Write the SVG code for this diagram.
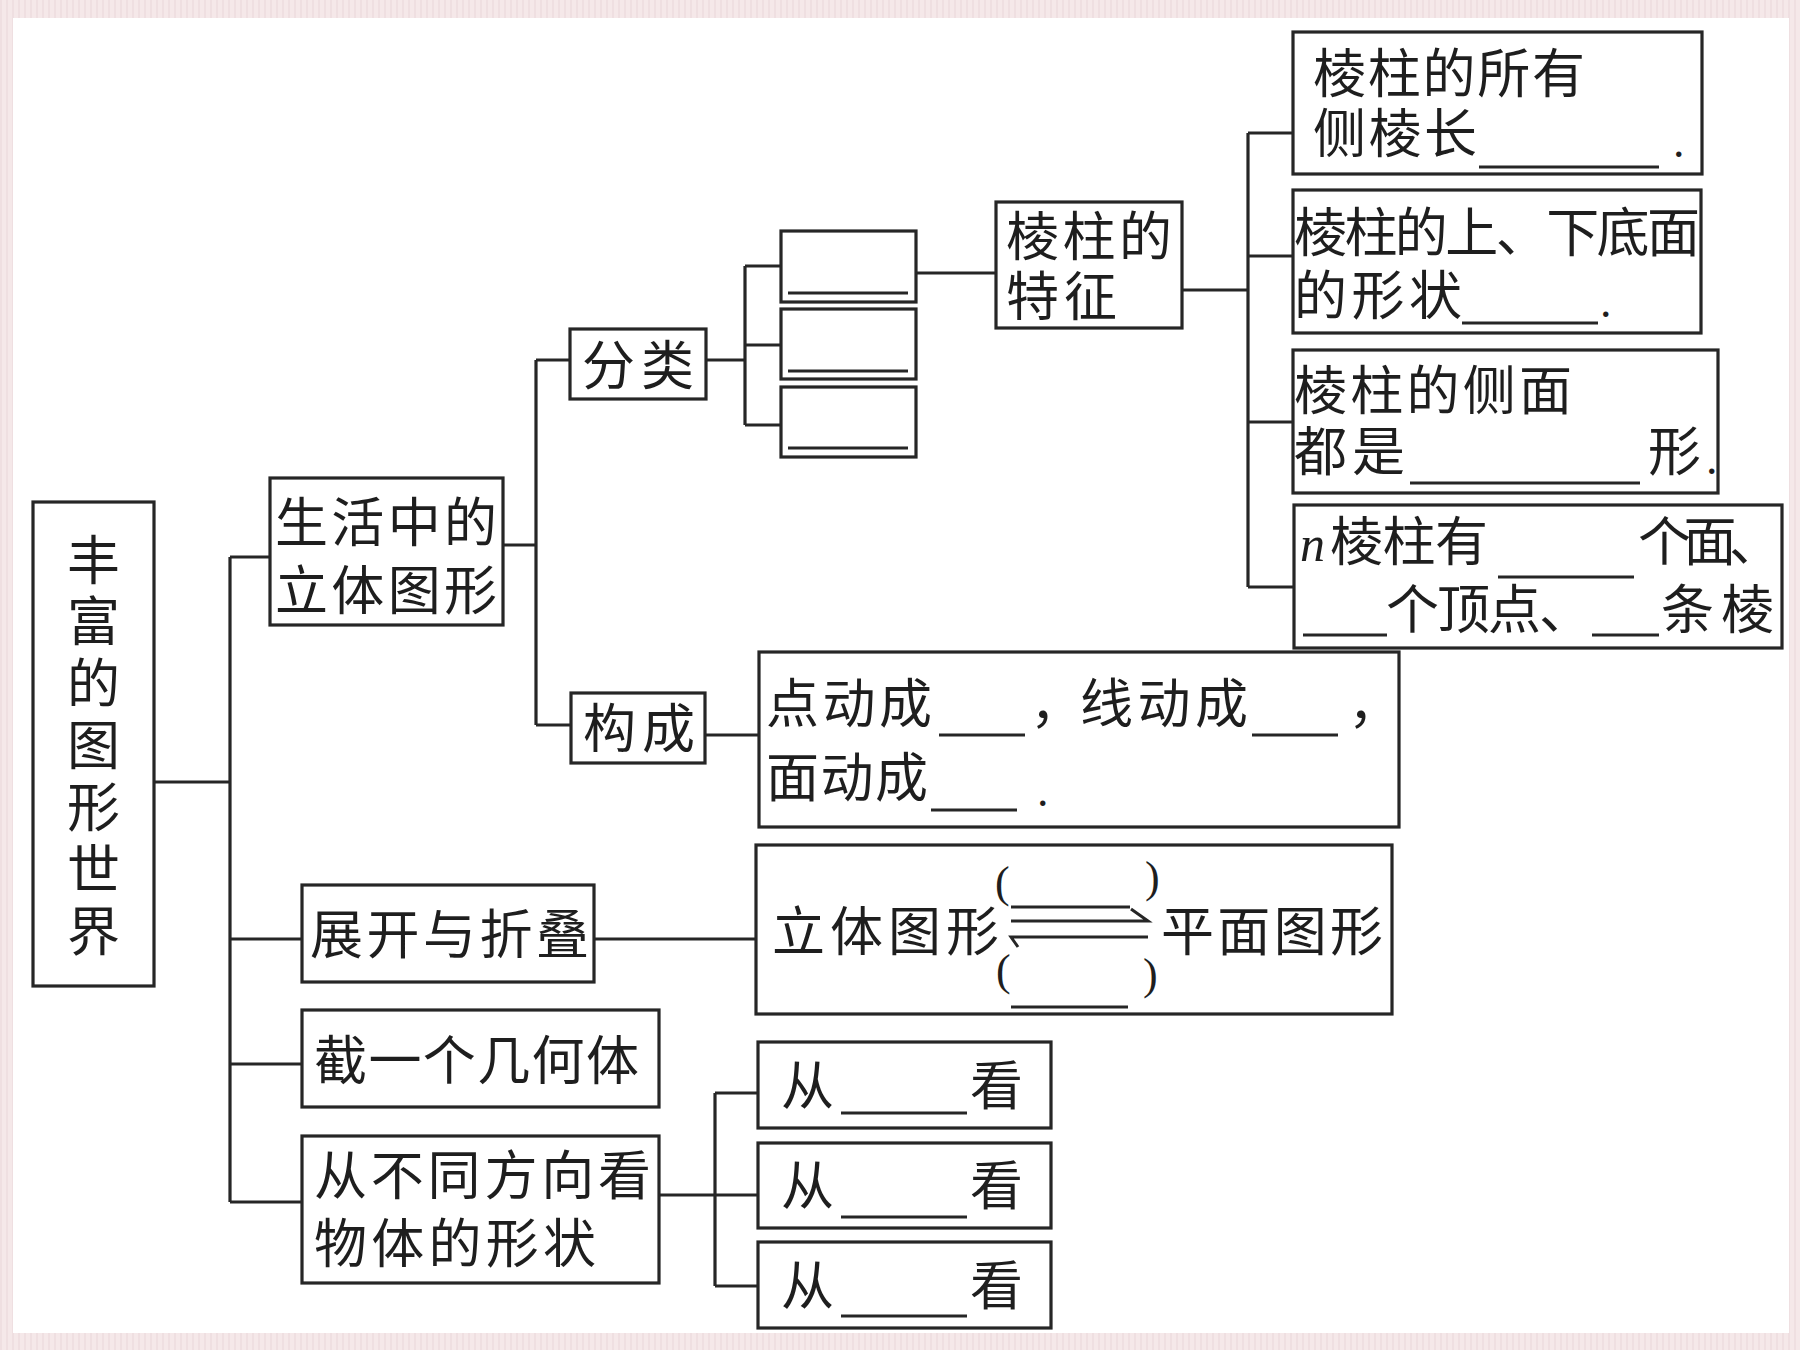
<svg xmlns="http://www.w3.org/2000/svg" width="1800" height="1350" viewBox="0 0 1800 1350">
<defs>
<style>
.paper{fill:#ffffff}
.box{fill:#ffffff;stroke:#262626;stroke-width:3.2}
.ln{fill:none;stroke:#262626;stroke-width:3.2}
.ul{fill:none;stroke:#262626;stroke-width:3}
.t{font-family:"Liberation Sans","Noto Sans CJK SC","Noto Sans CJK JP",sans-serif;font-size:53px;fill:#1e1e1e}
.s{font-family:"Liberation Serif","DejaVu Serif",serif;fill:#1e1e1e}
</style>
<pattern id="tex" width="6" height="6" patternUnits="userSpaceOnUse">
<rect width="6" height="6" fill="#f5e8e9"/>
<rect width="2" height="6" fill="#efdfe1"/>
</pattern>
</defs>
<rect x="0" y="0" width="1800" height="1350" fill="url(#tex)"/>
<rect class="paper" x="13" y="18" width="1776" height="1315"/>

<g id="connectors">
<polyline class="ln" points="154,782 230,782"/>
<line class="ln" x1="230" y1="557" x2="230" y2="1202"/>
<polyline class="ln" points="230,557 270,557"/>
<polyline class="ln" points="230,939 302,939"/>
<polyline class="ln" points="230,1064 302,1064"/>
<polyline class="ln" points="230,1202 302,1202"/>
<polyline class="ln" points="503,545 536,545"/>
<line class="ln" x1="536" y1="360" x2="536" y2="725"/>
<polyline class="ln" points="536,360 570,360"/>
<polyline class="ln" points="536,725 571,725"/>
<polyline class="ln" points="706,360 745,360"/>
<line class="ln" x1="745" y1="266" x2="745" y2="425"/>
<polyline class="ln" points="745,266 781,266"/>
<polyline class="ln" points="745,345 781,345"/>
<polyline class="ln" points="745,425 781,425"/>
<polyline class="ln" points="916,273 996,273"/>
<polyline class="ln" points="1182,290 1248,290"/>
<line class="ln" x1="1248" y1="133" x2="1248" y2="587"/>
<polyline class="ln" points="1248,133 1293,133"/>
<polyline class="ln" points="1248,256 1293,256"/>
<polyline class="ln" points="1248,422 1293,422"/>
<polyline class="ln" points="1248,587 1294,587"/>
<polyline class="ln" points="705,735 759,735"/>
<polyline class="ln" points="594,939 756,939"/>
<polyline class="ln" points="659,1195 715,1195"/>
<line class="ln" x1="715" y1="1093" x2="715" y2="1286"/>
<polyline class="ln" points="715,1093 758,1093"/>
<polyline class="ln" points="715,1195 758,1195"/>
<polyline class="ln" points="715,1286 758,1286"/>
</g>

<g id="root">
<rect class="box" x="33" y="502" width="121" height="484"/>
<text class="t" x="89" y="533" writing-mode="vertical-rl" style="writing-mode:vertical-rl" textLength="424" lengthAdjust="spacing">丰富的图形世界</text>
</g>

<g id="life">
<rect class="box" x="270" y="478" width="233" height="147"/>
<text class="t"><tspan x="275" y="542" textLength="222" lengthAdjust="spacing">生活中的</tspan><tspan x="275" y="610" textLength="222" lengthAdjust="spacing">立体图形</tspan></text>
</g>

<g id="classify">
<rect class="box" x="570" y="329" width="136" height="70"/>
<text class="t" x="582" y="385" textLength="112" lengthAdjust="spacing">分类</text>
</g>

<g id="blank1">
<rect class="box" x="781" y="231" width="135" height="71"/>
<line class="ul" x1="788" y1="293" x2="908" y2="293"/>
</g>
<g id="blank2">
<rect class="box" x="781" y="309" width="135" height="70"/>
<line class="ul" x1="788" y1="371" x2="908" y2="371"/>
</g>
<g id="blank3">
<rect class="box" x="781" y="387" width="135" height="70"/>
<line class="ul" x1="788" y1="448" x2="908" y2="448"/>
</g>

<g id="prism-features">
<rect class="box" x="996" y="202" width="186" height="126"/>
<text class="t"><tspan x="1006" y="256" textLength="166" lengthAdjust="spacing">棱柱的</tspan><tspan x="1006" y="316" textLength="111" lengthAdjust="spacing">特征</tspan></text>
</g>

<g id="feat-a">
<rect class="box" x="1293" y="32" width="409" height="142"/>
<text class="t"><tspan x="1313" y="93" textLength="272" lengthAdjust="spacing">棱柱的所有</tspan><tspan x="1313" y="153" textLength="164" lengthAdjust="spacing">侧棱长</tspan><tspan class="s" x="1673" y="157" font-size="46">.</tspan></text>
<line class="ul" x1="1479" y1="167" x2="1659" y2="167"/>
</g>

<g id="feat-b">
<rect class="box" x="1293" y="190" width="408" height="143"/>
<text class="t"><tspan x="1294" y="252" textLength="406" lengthAdjust="spacing">棱柱的上、下底面</tspan><tspan x="1294" y="315" textLength="168" lengthAdjust="spacing">的形状</tspan><tspan class="s" x="1600" y="317" font-size="46">.</tspan></text>
<line class="ul" x1="1462" y1="323" x2="1598" y2="323"/>
</g>

<g id="feat-c">
<rect class="box" x="1293" y="350" width="425" height="143"/>
<text class="t"><tspan x="1294" y="410" textLength="278" lengthAdjust="spacing">棱柱的侧面</tspan><tspan x="1294" y="471" textLength="111" lengthAdjust="spacing">都是</tspan><tspan x="1648" y="471">形</tspan><tspan class="s" x="1706" y="474" font-size="46">.</tspan></text>
<line class="ul" x1="1410" y1="483" x2="1640" y2="483"/>
</g>

<g id="feat-d">
<rect class="box" x="1294" y="505" width="488" height="143"/>
<text class="t"><tspan class="s" x="1300" y="561" font-size="50" font-style="italic">n</tspan><tspan x="1330" y="561" textLength="158" lengthAdjust="spacing">棱柱有</tspan><tspan x="1638" y="561" textLength="144" lengthAdjust="spacing">个面、</tspan><tspan x="1386" y="629" textLength="206" lengthAdjust="spacing">个顶点、</tspan><tspan x="1661" y="629" textLength="113" lengthAdjust="spacing">条棱</tspan></text>
<line class="ul" x1="1498" y1="577" x2="1634" y2="577"/>
<line class="ul" x1="1303" y1="635" x2="1387" y2="635"/>
<line class="ul" x1="1592" y1="635" x2="1659" y2="635"/>
</g>

<g id="compose">
<rect class="box" x="571" y="693" width="134" height="70"/>
<text class="t" x="583" y="748" textLength="112" lengthAdjust="spacing">构成</text>
</g>

<g id="compose-detail">
<rect class="box" x="759" y="652" width="640" height="175"/>
<text class="t"><tspan x="766" y="723" textLength="166" lengthAdjust="spacing">点动成</tspan><tspan x="1030" y="723">，</tspan><tspan x="1080" y="723" textLength="168" lengthAdjust="spacing">线动成</tspan><tspan x="1348" y="723">，</tspan><tspan x="766" y="797" textLength="162" lengthAdjust="spacing">面动成</tspan><tspan class="s" x="1037" y="806" font-size="46">.</tspan></text>
<line class="ul" x1="939" y1="735" x2="1025" y2="735"/>
<line class="ul" x1="1252" y1="735" x2="1338" y2="735"/>
<line class="ul" x1="931" y1="810" x2="1017" y2="810"/>
</g>

<g id="unfold">
<rect class="box" x="302" y="885" width="292" height="97"/>
<text class="t" x="310" y="954" textLength="279" lengthAdjust="spacing">展开与折叠</text>
</g>

<g id="unfold-detail">
<rect class="box" x="756" y="845" width="636" height="169"/>
<text class="t"><tspan x="772" y="951" textLength="227" lengthAdjust="spacing">立体图形</tspan><tspan x="1161" y="951" textLength="222" lengthAdjust="spacing">平面图形</tspan></text>
<text class="s" font-size="44"><tspan x="995" y="897">(</tspan><tspan x="1145" y="892">)</tspan><tspan x="996" y="985">(</tspan><tspan x="1143" y="989">)</tspan></text>
<line class="ul" x1="1011" y1="907" x2="1130" y2="907"/>
<polyline class="ul" points="1011,921 1148,921 1131,909"/>
<polyline class="ul" points="1148,937 1011,937 1018,947"/>
<line class="ul" x1="1011" y1="1007" x2="1128" y2="1007"/>
</g>

<g id="cut">
<rect class="box" x="302" y="1010" width="357" height="97"/>
<text class="t" x="314" y="1080" textLength="325" lengthAdjust="spacing">截一个几何体</text>
</g>

<g id="views">
<rect class="box" x="302" y="1136" width="357" height="147"/>
<text class="t"><tspan x="314" y="1195" textLength="337" lengthAdjust="spacing">从不同方向看</tspan><tspan x="314" y="1263" textLength="282" lengthAdjust="spacing">物体的形状</tspan></text>
</g>

<g id="view1">
<rect class="box" x="758" y="1042" width="293" height="86"/>
<text class="t"><tspan x="781" y="1105">从</tspan><tspan x="970" y="1105">看</tspan></text>
<line class="ul" x1="841" y1="1113" x2="967" y2="1113"/>
</g>
<g id="view2">
<rect class="box" x="758" y="1143" width="293" height="85"/>
<text class="t"><tspan x="781" y="1205">从</tspan><tspan x="970" y="1205">看</tspan></text>
<line class="ul" x1="841" y1="1217" x2="967" y2="1217"/>
</g>
<g id="view3">
<rect class="box" x="758" y="1242" width="293" height="86"/>
<text class="t"><tspan x="781" y="1305">从</tspan><tspan x="970" y="1305">看</tspan></text>
<line class="ul" x1="841" y1="1316" x2="967" y2="1316"/>
</g>
</svg>
